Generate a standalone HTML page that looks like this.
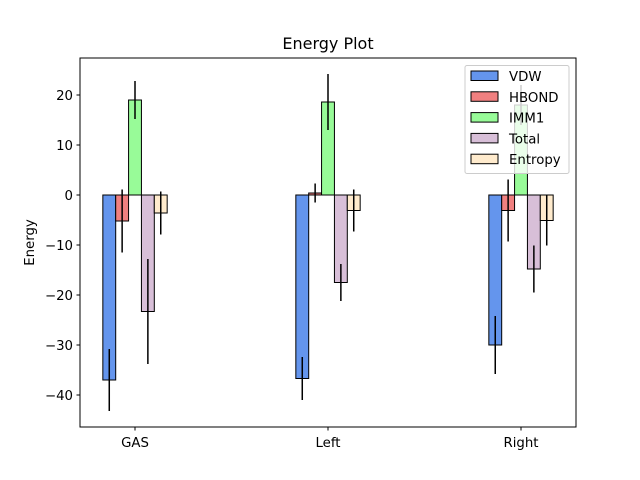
<!DOCTYPE html>
<html><head><meta charset="utf-8"><style>body{margin:0;background:#fff}svg{display:block;font-family:"DejaVu Sans","Liberation Sans",sans-serif}</style></head>
<body>
<svg id="chart" width="640" height="480" xmlns="http://www.w3.org/2000/svg"></svg>
<script>
const categories = ["GAS", "Left", "Right"];
const seriesNames = ["VDW", "HBOND", "IMM1", "Total", "Entropy"];
const vdw = [-37, -36.7, -30];
const hbond = [-5.2, 0.4, -3.1];
const imm1 = [19, 18.6, 18];
const total = [-23.3, -17.5, -14.8];
const entropy = [-3.6, -3.1, -5.1];
const vdwErr = [6.2, 4.3, 5.8];
const hbondErr = [6.3, 1.9, 6.2];
const imm1Err = [3.8, 5.6, 4];
const totalErr = [10.5, 3.7, 4.7];
const entropyErr = [4.3, 4.2, 5];
const yTicks = [-40, -30, -20, -10, 0, 10, 20];

const colors = ["#6495ED", "#F08080", "#98FB98", "#D8BFD8", "#FFEBCD"];
const values = [vdw, hbond, imm1, total, entropy];
const errs = [vdwErr, hbondErr, imm1Err, totalErr, entropyErr];
const NS = "http://www.w3.org/2000/svg";
const svg = document.getElementById("chart");
const L = 80, R = 576, T = 58, B = 427;
const yMin = -46.4, yMax = 27.4;
const xMin = -0.285, xMax = 2.285;
const barW = 1 / 15;
const y = v => T + (yMax - v) / (yMax - yMin) * (B - T);
const x = v => L + (v - xMin) / (xMax - xMin) * (R - L);
function el(tag, attrs, parent) {
  const e = document.createElementNS(NS, tag);
  for (const k in attrs) e.setAttribute(k, attrs[k]);
  (parent || svg).appendChild(e);
  return e;
}
const bars = el("g", {});


values.forEach((vals, s) => {
  vals.forEach((v, i) => {
    const cx = i + (s - 2) * barW;
    const x0 = x(cx - barW / 2), x1 = x(cx + barW / 2);
    const r = el("rect", {x: x0, y: Math.min(y(v), y(0)), width: x1 - x0, height: Math.abs(y(v) - y(0)), fill: colors[s], stroke: "#000", "stroke-width": 1}, bars);
    
    
    const e = el("line", {x1: x(cx), x2: x(cx), y1: y(v - errs[s][i]), y2: y(v + errs[s][i]), stroke: "#000", "stroke-width": 1.5}, bars);
    
    
  });
});
const frame = el("rect", {x: L, y: T, width: R - L, height: B - T, fill: "none", stroke: "#000", "stroke-width": 1});


yTicks.forEach(t => {
  const yy = y(t);
  el("line", {x1: L - 3.5, x2: L, y1: yy, y2: yy, stroke: "#000"});
  const tx = el("text", {x: L - 7, y: yy + 5, "text-anchor": "end", "font-size": 13.3});
  tx.textContent = t < 0 ? "\u2212" + Math.abs(t) : t;
  
  
});
categories.forEach((c, i) => {
  el("line", {x1: x(i), x2: x(i), y1: B, y2: B + 3.5, stroke: "#000"});
  const tx = el("text", {x: x(i), y: B + 20, "text-anchor": "middle", "font-size": 13.3});
  tx.textContent = c;
  
  
});
const yt = el("text", {x: 34, y: (T + B) / 2, "text-anchor": "middle", "font-size": 13.3, transform: "rotate(-90 34 " + (T + B) / 2 + ")"});
yt.textContent = "Energy";


const title = el("text", {x: (L + R) / 2, y: 49, "text-anchor": "middle", "font-size": 16});
title.textContent = "Energy Plot";


const lg = el("g", {});


el("rect", {x: 465, y: 65.5, width: 104, height: 108, rx: 2, fill: "#fff", "fill-opacity": 0.8, stroke: "#ccc"}, lg);
seriesNames.forEach((n, s) => {
  const yy = 71 + s * 20.8;
  const sw = el("rect", {x: 471, y: yy, width: 27, height: 9.5, fill: colors[s], stroke: "#000"}, lg);
  
  
  const tx = el("text", {x: 509, y: yy + 10, "font-size": 13.3}, lg);
  tx.textContent = n;
  
  
});
</script>
</body></html>
